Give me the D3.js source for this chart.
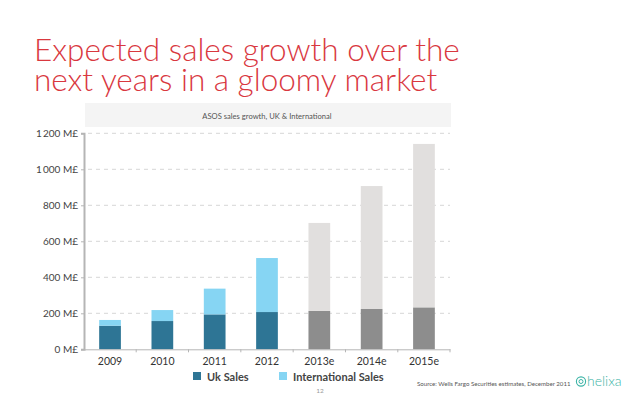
<!DOCTYPE html>
<html>
<head>
<meta charset="utf-8">
<script src="https://cdn.jsdelivr.net/npm/d3@7"></script>
<style>
  html, body { margin: 0; padding: 0; background: #fff; }
  svg { display: block; }
</style>
</head>
<body>
<svg id="chart" width="638" height="399"></svg>
<script>
const categories = ["2009", "2010", "2011", "2012", "2013e", "2014e", "2015e"];
const ukSales = [131, 157, 194, 207, 213, 224, 233];
const intlSales = [32, 61, 143, 300, 489, 683, 908];
const forecast = [false, false, false, false, true, true, true];
const yTicks = [0, 200, 400, 600, 800, 1000, 1200];
const titleLines = ["Expected sales growth over the", "next years in a gloomy market"];
const subtitle = "ASOS sales growth, UK & International";
const legendLabels = ["Uk Sales", "International Sales"];
const sourceText = "Source: Wells Fargo Securities estimates, December 2011";
const pageNumber = "12";

const colors = {
  uk: "#2e7595", intl: "#86d5f3",
  ukF: "#8d8d8d", intlF: "#e1dfde",
  title: "#d9383f", text: "#444", grid: "#d6d6d6", axis: "#b5b5b5"
};

const svg = d3.select("#chart");
const x0 = 84, x1 = 450, yTop = 133.3, yBot = 349.3;

// Title (one text element, two lines)
const title = svg.append("text").attr("font-family", "Lato, sans-serif").attr("font-weight", 300)
  .attr("fill", colors.title).attr("font-size", 31.5);
titleLines.forEach((t, i) => {
  title.append("tspan").attr("x", 34).attr("y", 61 + i * 29.5).text(t);
});

// Subtitle band
svg.append("rect").attr("x", 85).attr("y", 103).attr("width", 366).attr("height", 24).attr("fill", "#f4f4f4");
svg.append("text").attr("x", 267).attr("y", 118.5).attr("text-anchor", "middle")
  .attr("font-family", "Lato, sans-serif").attr("font-size", 7.6).attr("fill", "#555").text(subtitle);

const xScale = d3.scaleBand().domain(categories).range([x0, x1]).paddingInner(0.585).paddingOuter(0.29);
const yScale = d3.scaleLinear().domain([0, 1200]).range([yBot, yTop]);

// Grid
svg.append("g").selectAll("line").data(yTicks.filter(d => d > 0)).join("line")
  .attr("x1", x0 + 4).attr("x2", x1).attr("y1", d => yScale(d)).attr("y2", d => yScale(d))
  .attr("stroke", colors.grid).attr("stroke-width", 1).attr("stroke-dasharray", "4,4");

// Bars
const data = categories.map((c, i) => ({ c, uk: ukSales[i], intl: intlSales[i], f: forecast[i] }));
const bars = svg.append("g");
bars.selectAll("rect.uk").data(data).join("rect").attr("class", "uk")
  .attr("x", d => xScale(d.c)).attr("width", xScale.bandwidth())
  .attr("y", d => yScale(d.uk)).attr("height", d => yScale(0) - yScale(d.uk))
  .attr("fill", d => d.f ? colors.ukF : colors.uk);
bars.selectAll("rect.intl").data(data).join("rect").attr("class", "intl")
  .attr("x", d => xScale(d.c)).attr("width", xScale.bandwidth())
  .attr("y", d => yScale(d.uk + d.intl)).attr("height", d => yScale(d.uk) - yScale(d.uk + d.intl))
  .attr("fill", d => d.f ? colors.intlF : colors.intl);

// Y axis
const yAxis = d3.axisLeft(yScale).tickValues(yTicks).tickSize(3).tickPadding(3)
  .tickFormat(d => (d >= 1000 ? d3.format(",")(d).replace(",", "\u2009") : d) + " M£");
const yg = svg.append("g").attr("transform", `translate(${x0},0)`).call(yAxis);
yg.select(".domain").attr("stroke", colors.axis).attr("stroke-width", 2);
yg.selectAll(".tick line").attr("stroke", colors.axis);
yg.selectAll("text").attr("font-family", "Lato, sans-serif").attr("font-size", 10).attr("fill", colors.text);

// X axis
const xAxis = d3.axisBottom(xScale).tickSize(0).tickPadding(8);
const xg = svg.append("g").attr("transform", `translate(0,${yBot})`).call(xAxis);
xg.select(".domain").attr("stroke", colors.axis).attr("stroke-width", 1);
xg.selectAll("text").attr("font-family", "Lato, sans-serif").attr("font-size", 10.5).attr("fill", "#333");
const bounds = categories.map(c => xScale(c) - xScale.step() * xScale.paddingInner() / 2).slice(1).concat([x1]);
xg.append("g").selectAll("line").data(bounds).join("line")
  .attr("x1", d => d).attr("x2", d => d).attr("y1", 0).attr("y2", 3).attr("stroke", colors.axis);

// Legend
const leg = svg.append("g").attr("font-family", "Lato, sans-serif").attr("font-weight", 700)
  .attr("font-size", 11).attr("fill", "#444");
const legItems = [{ l: legendLabels[0], c: colors.uk, x: 193 }, { l: legendLabels[1], c: colors.intl, x: 279 }];
legItems.forEach(it => {
  leg.append("rect").attr("x", it.x).attr("y", 372).attr("width", 8).attr("height", 8).attr("fill", it.c);
  leg.append("text").attr("x", it.x + 14).attr("y", 380.5).text(it.l);
});

svg.append("text").attr("x", 320).attr("y", 393).attr("text-anchor", "middle")
  .attr("font-family", "Lato, sans-serif").attr("font-size", 6.5).attr("fill", "#999").text(pageNumber);

svg.append("text").attr("x", 417).attr("y", 386).attr("font-family", "Lato, sans-serif")
  .attr("font-size", 6.1).attr("fill", "#555").text(sourceText);

// logo
const logo = svg.append("g").attr("fill", "#3bb4a6");
logo.append("circle").attr("cx", 581).attr("cy", 381.5).attr("r", 4.6).attr("fill", "none")
  .attr("stroke", "#3bb4a6").attr("stroke-width", 1.1);
logo.append("circle").attr("cx", 581).attr("cy", 381.5).attr("r", 2).attr("fill", "none")
  .attr("stroke", "#3bb4a6").attr("stroke-width", 1);
logo.append("text").attr("x", 587).attr("y", 386).attr("font-family", "Lato, sans-serif")
  .attr("font-size", 14).attr("font-weight", 300).text("helixa");
</script>
</body>
</html>
